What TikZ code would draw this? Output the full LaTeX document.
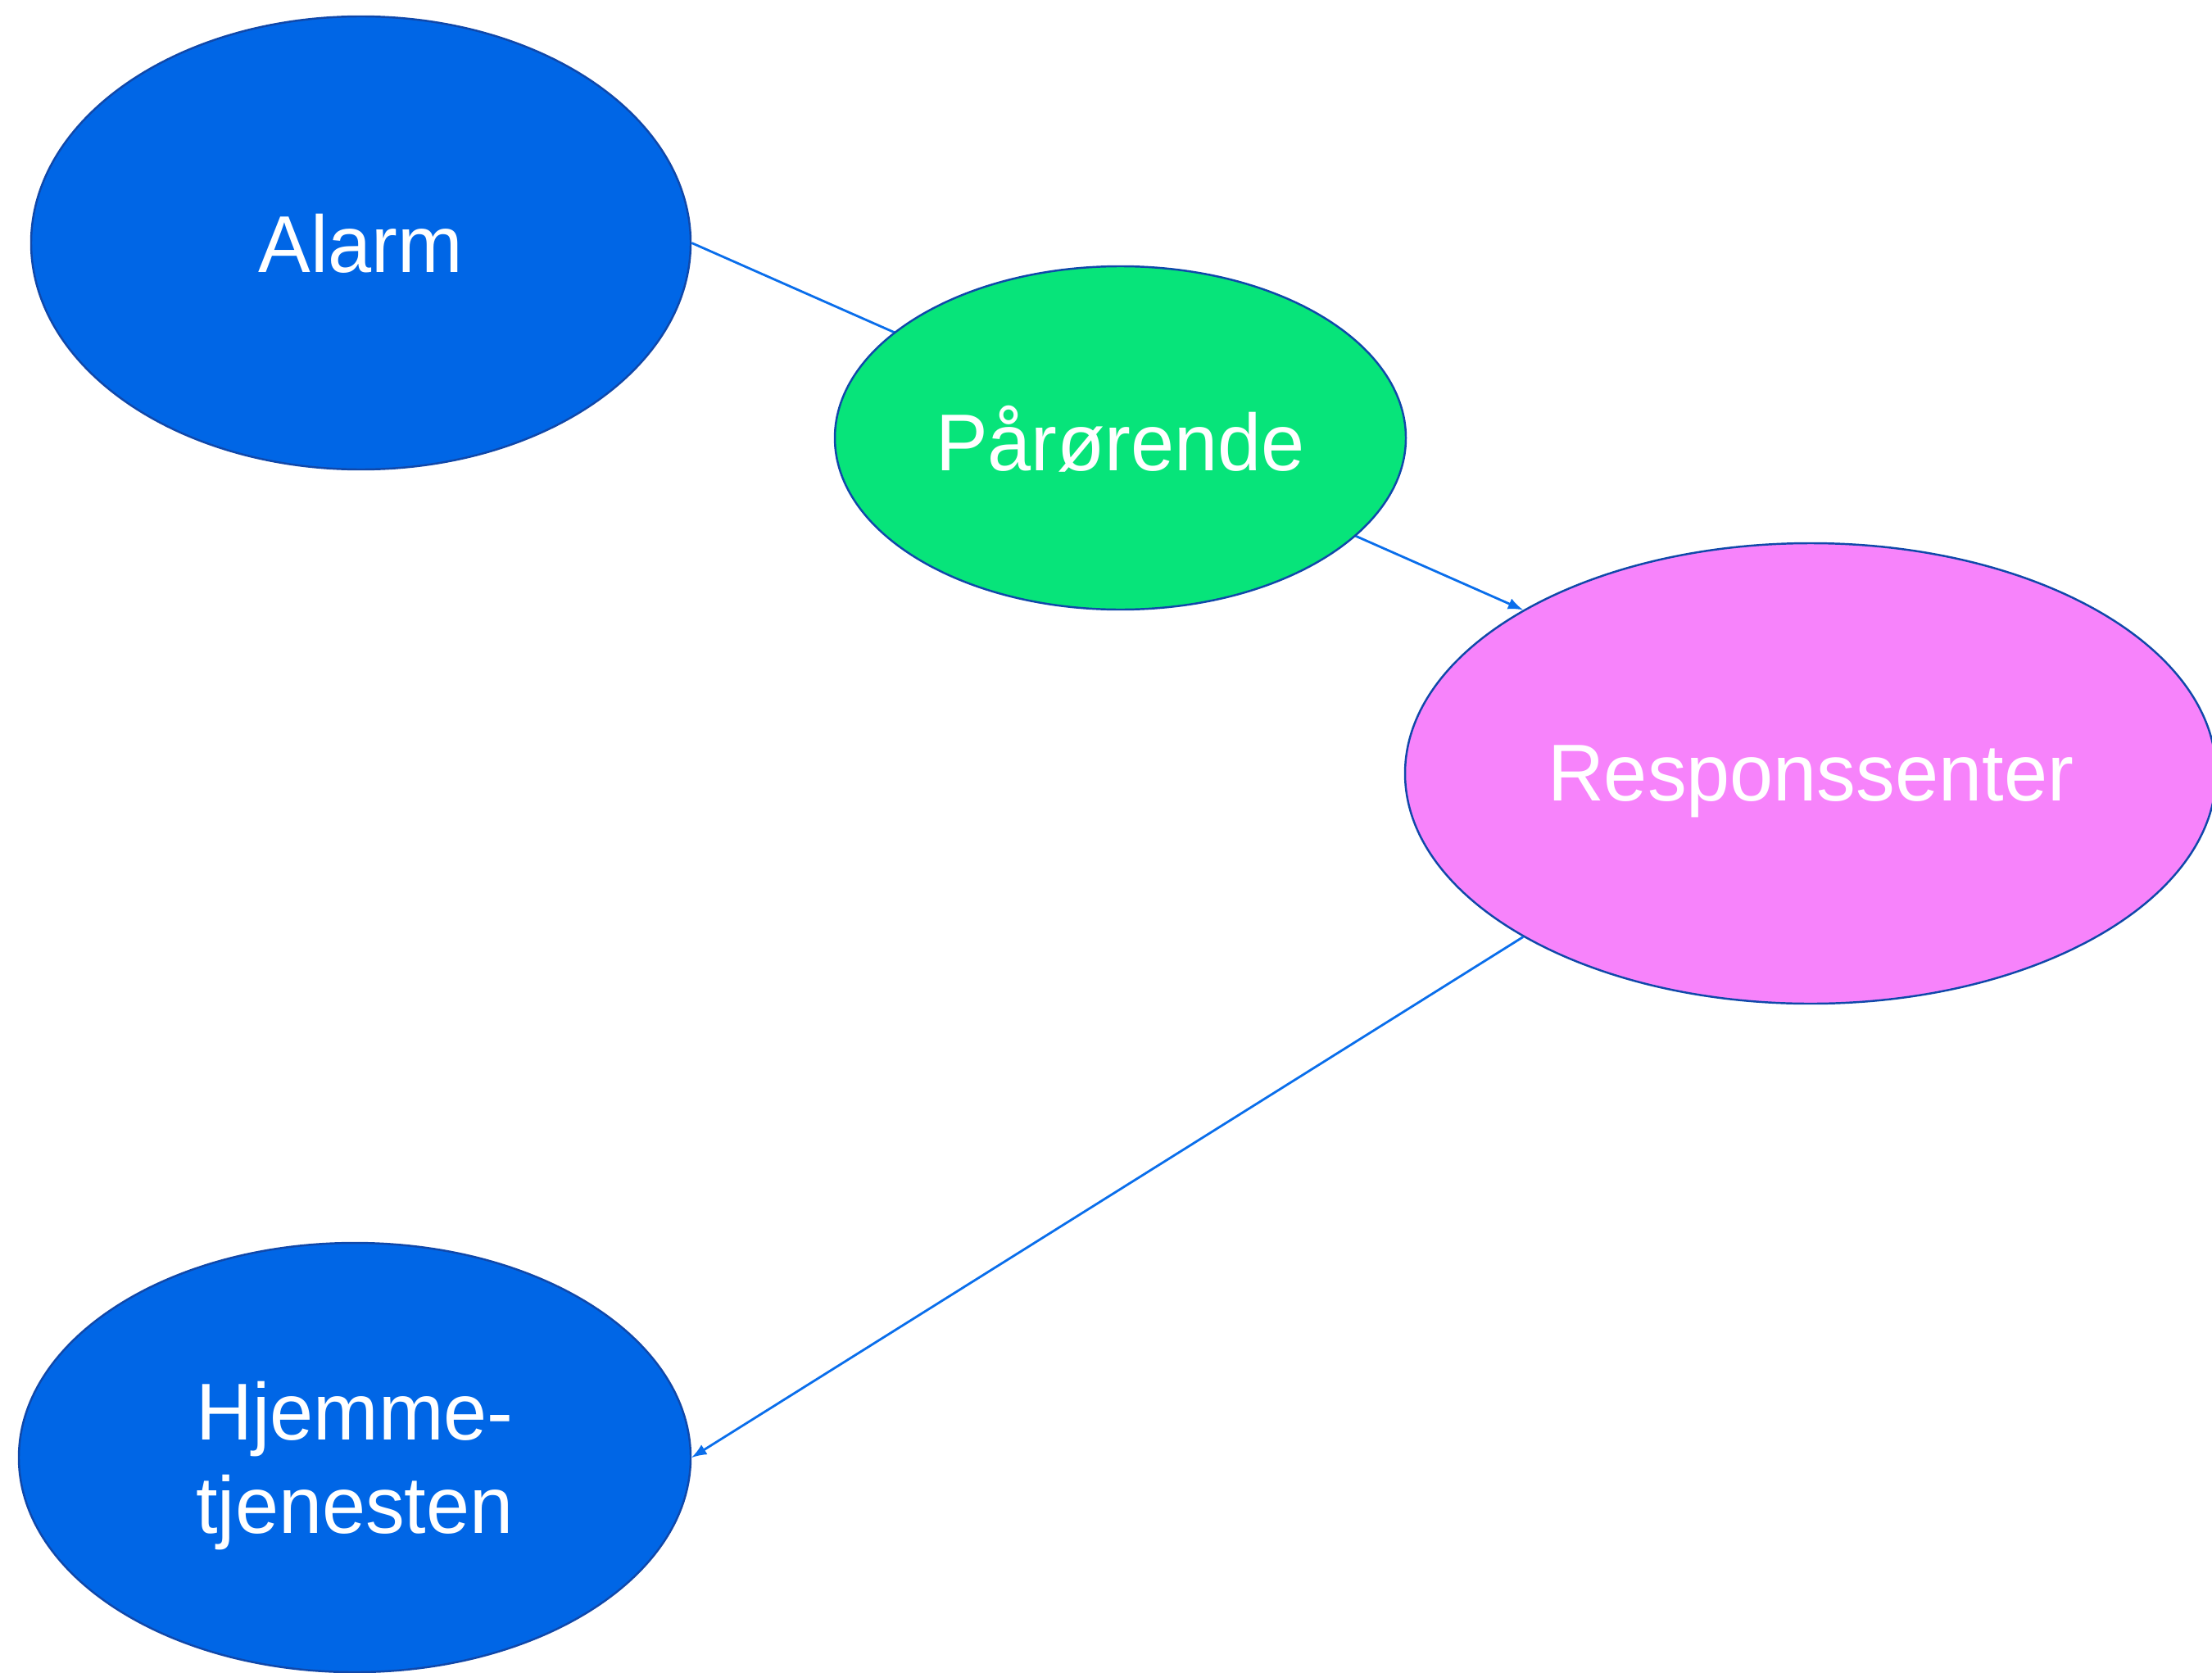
\documentclass[tikz,border=0pt]{standalone}
\usepackage{fontspec}
\setmainfont{Liberation Sans}[FakeStretch=0.97]
\usetikzlibrary{shapes.geometric}
\definecolor{bubbleblue}{RGB}{0,102,230}
\definecolor{bubblegreen}{RGB}{7,228,122}
\definecolor{bubblepink}{RGB}{247,131,251}
\definecolor{rimblue}{RGB}{16,72,170}
\definecolor{linkblue}{RGB}{10,110,235}
\begin{document}
\begin{tikzpicture}[
		bubble/.style={ellipse, draw=rimblue, line width=0.7pt, inner sep=0pt, text=white, align=center,
			text depth=0pt, font=\fontsize{28}{32.4}\selectfont},
		link/.style={draw=linkblue, line width=0.8pt}]
		\useasboundingbox (0,0) rectangle (27,-20.41);
		\node[bubble, fill=bubbleblue, minimum width=8.05cm, minimum height=5.53cm] (alarm) at (4.405,-2.965) {Alarm};
		\node[bubble, fill=bubblepink, minimum width=9.9cm, minimum height=5.62cm] (respons) at (22.1,-9.44) {Responssenter};
		\node[bubble, fill=bubbleblue, minimum width=8.2cm, minimum height=5.24cm] (hjemme) at (4.33,-17.79) {Hjemme-\\tjenesten};
		\draw[link, -latex] (alarm.east)--(respons.north west);
		\draw[link, -latex] (respons.south west)--(hjemme.east);
		\node[bubble, fill=bubblegreen, minimum width=6.97cm, minimum height=4.19cm] (parorende) at (13.675,-5.345) {Pårørende};
	\end{tikzpicture}
\end{document}
